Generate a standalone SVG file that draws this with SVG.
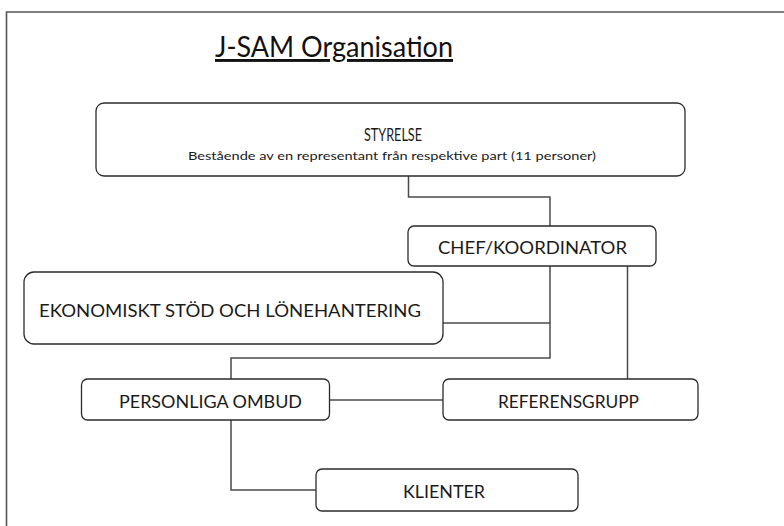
<svg xmlns="http://www.w3.org/2000/svg" width="784" height="526" viewBox="0 0 784 526">
<style>
  .box { fill: #ffffff; stroke: #2b2b2b; stroke-width: 1.3; }
  .conn { fill: none; stroke: #4a4a4a; stroke-width: 1.5; }
  .lbl { font-family: Lato, "Open Sans", "Liberation Sans", sans-serif; fill: #1a1a1a; text-anchor: middle; }
  .big { font-size: 17px; }
  .small { font-size: 12px; }
  .title { font-family: Lato, "Open Sans", "Liberation Sans", sans-serif; font-size: 29px; fill: #111111; text-decoration: underline; }
</style>
<rect x="0" y="0" width="784" height="526" fill="#ffffff"/>
<path d="M6.5,526 V12 H784" fill="none" stroke="#555555" stroke-width="1.6"/>
<text class="title" x="215" y="57" textLength="238" lengthAdjust="spacingAndGlyphs">J-SAM Organisation</text>
<g id="connectors">
  <path class="conn" d="M408.5,176 V197 H550 V226"/>
  <path class="conn" d="M550,266 V358 H231 V379"/>
  <path class="conn" d="M443,323 H550"/>
  <path class="conn" d="M627.5,266 V379"/>
  <path class="conn" d="M329,400 H443"/>
  <path class="conn" d="M231,420 V490 H316"/>
</g>
<g id="styrelse">
  <rect class="box" x="96" y="103" width="589" height="73" rx="8"/>
  <text class="lbl big" x="393" y="141" textLength="58" lengthAdjust="spacingAndGlyphs">STYRELSE</text>
  <text class="lbl small" x="392" y="160" textLength="408" lengthAdjust="spacingAndGlyphs">Bestående av en representant från respektive part (11 personer)</text>
</g>
<g id="chef">
  <rect class="box" x="408" y="226" width="248" height="40" rx="6"/>
  <text class="lbl big" x="532.5" y="254" textLength="189" lengthAdjust="spacingAndGlyphs">CHEF/KOORDINATOR</text>
</g>
<g id="ekonomi">
  <rect class="box" x="24" y="272" width="419" height="72" rx="10"/>
  <text class="lbl big" x="230" y="317" textLength="382" lengthAdjust="spacingAndGlyphs">EKONOMISKT STÖD OCH LÖNEHANTERING</text>
</g>
<g id="personliga">
  <rect class="box" x="81.5" y="379" width="248" height="41" rx="6"/>
  <text class="lbl big" x="210.5" y="408" textLength="183" lengthAdjust="spacingAndGlyphs">PERSONLIGA OMBUD</text>
</g>
<g id="referensgrupp">
  <rect class="box" x="443" y="379" width="255" height="41" rx="6"/>
  <text class="lbl big" x="568.5" y="408" textLength="141" lengthAdjust="spacingAndGlyphs">REFERENSGRUPP</text>
</g>
<g id="klienter">
  <rect class="box" x="316" y="469" width="262" height="42" rx="6"/>
  <text class="lbl big" x="444" y="498" textLength="82" lengthAdjust="spacingAndGlyphs">KLIENTER</text>
</g>
</svg>
